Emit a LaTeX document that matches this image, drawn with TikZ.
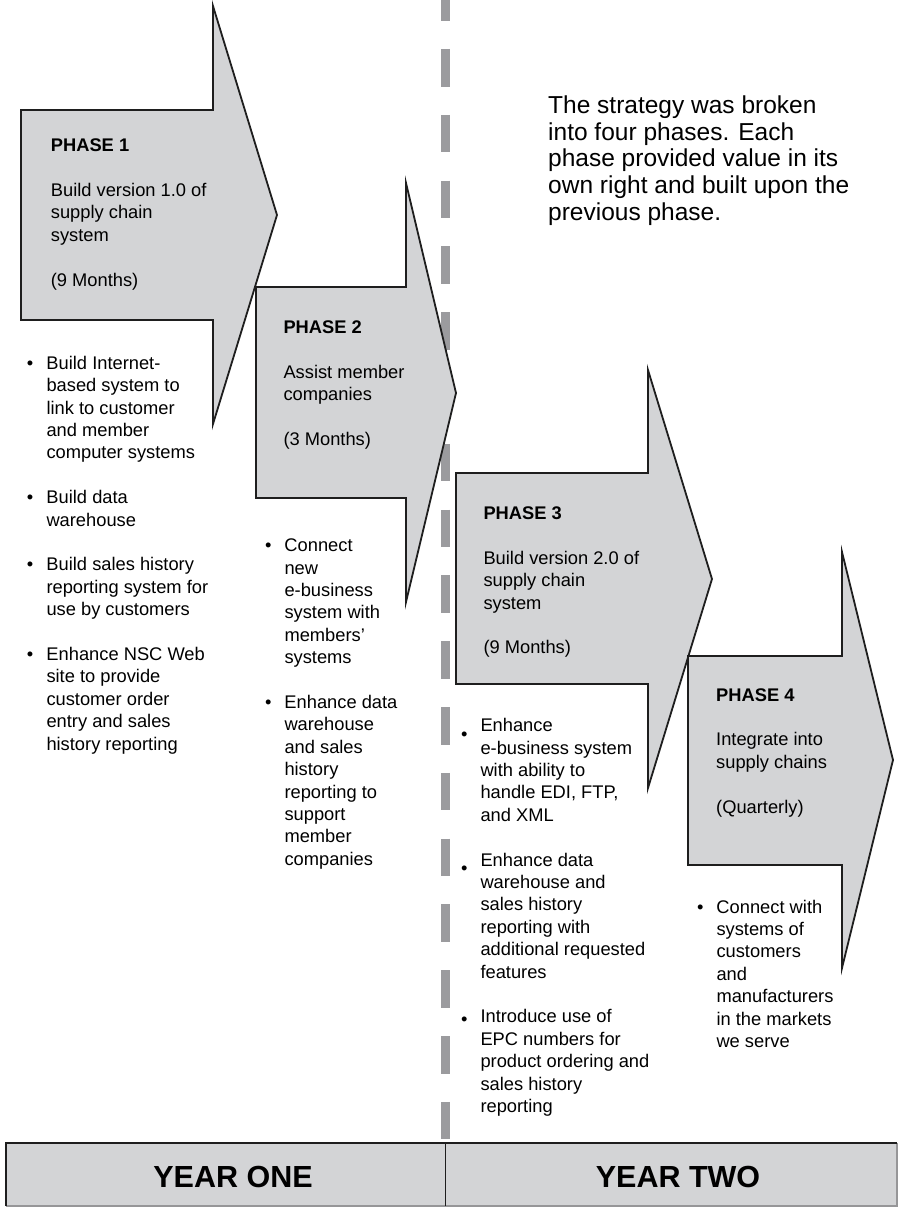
\documentclass[tikz,border=0pt]{standalone}
\usepackage{fontspec}
\setmainfont{Liberation Sans}
\definecolor{arrowfill}{RGB}{211,212,214}
\definecolor{dashgray}{RGB}{155,155,158}
\definecolor{edgecol}{RGB}{30,30,30}
\definecolor{lowedge}{RGB}{150,150,152}
\newcommand{\lowbullet}[1]{\raisebox{#1}[0pt][0pt]{\textbullet}}
\begin{document}
\begin{tikzpicture}[x=1pt,y=-1pt,
  arrowshape/.style={fill=arrowfill, draw=edgecol, line width=1.8pt, line join=miter},
  phasetext/.style={anchor=base west, inner sep=0pt, text=black, font=\fontsize{18.3}{22.4}\selectfont},
  listtext/.style={anchor=base west, inner sep=0pt, text=black, font=\fontsize{18.3}{22.4}\selectfont},
  introtext/.style={anchor=base west, inner sep=0pt, text=black, font=\fontsize{24.5}{26.8}\selectfont},
  yeartext/.style={anchor=base, inner sep=0pt, text=black, font=\fontsize{30.5}{34}\selectfont\bfseries}]
\useasboundingbox (0,0) rectangle (898,1207);

% dashed divider
\draw[dashgray, line width=9pt, dash pattern=on 37.5pt off 28.3pt, dash phase=16.8pt] (445.5,0) -- (445.5,1143);

% arrows
\draw[arrowshape] (21,110) -- (213,110) -- (213,6) -- (277,215) -- (213,424) -- (213,320) -- (21,320) -- cycle;
\draw[arrowshape] (256,287) -- (406,287) -- (406,183) -- (456,393) -- (406,602) -- (406,498) -- (256,498) -- cycle;
\draw[arrowshape] (456,473) -- (648,473) -- (648,370) -- (712,579) -- (648,788) -- (648,684) -- (456,684) -- cycle;
\draw[arrowshape] (688,656) -- (842,656) -- (842,552) -- (893,760) -- (842,968) -- (842,865) -- (688,865) -- cycle;

% phase texts
\node[phasetext] (p1) at (50.7,151.7) {\begin{tabular}[t]{@{}l@{}}\textbf{PHASE 1}\\ \\Build version 1.0 of\\supply chain\\system\\ \\(9 Months)\end{tabular}};
\node[phasetext] (p2) at (283.3,333.5) {\begin{tabular}[t]{@{}l@{}}\textbf{PHASE 2}\\ \\Assist member\\companies\\ \\(3 Months)\end{tabular}};
\node[phasetext] (p3) at (483.3,519.5) {\begin{tabular}[t]{@{}l@{}}\textbf{PHASE 3}\\ \\Build version 2.0 of\\supply chain\\system\\ \\(9 Months)\end{tabular}};
\node[phasetext] (p4) at (716,701) {\begin{tabular}[t]{@{}l@{}}\textbf{PHASE 4}\\ \\Integrate into\\supply chains\\ \\(Quarterly)\end{tabular}};

% bullet lists
\node[listtext] (l1) at (26.8,369.3) {\begin{tabular}[t]{@{}c@{\hspace{13.1pt}}l@{}}
\textbullet & Build Internet-\\
& based system to\\
& link to customer\\
& and member\\
& computer systems\\
& \\
\textbullet & Build data\\
& warehouse\\
& \\
\textbullet & Build sales history\\
& reporting system for\\
& use by customers\\
& \\
\textbullet & Enhance NSC Web\\
& site to provide\\
& customer order\\
& entry and sales\\
& history reporting
\end{tabular}};

\node[listtext] (l2) at (264.8,551.7) {\begin{tabular}[t]{@{}c@{\hspace{13.1pt}}l@{}}
\textbullet & Connect\\
& new\\
& e-business\\
& system with\\
& members’\\
& systems\\
& \\
\textbullet & Enhance data\\
& warehouse\\
& and sales\\
& history\\
& reporting to\\
& support\\
& member\\
& companies
\end{tabular}};

\node[listtext] (l3) at (460.8,731.7) {\begin{tabular}[t]{@{}c@{\hspace{13.1pt}}l@{}}
\lowbullet{-9pt} & Enhance\\
& e-business system\\
& with ability to\\
& handle EDI, FTP,\\
& and XML\\
& \\
\lowbullet{-8pt} & Enhance data\\
& warehouse and\\
& sales history\\
& reporting with\\
& additional requested\\
& features\\
& \\
\lowbullet{-3pt} & Introduce use of\\
& EPC numbers for\\
& product ordering and\\
& sales history\\
& reporting
\end{tabular}};

\node[listtext] (l4) at (696.8,913) {\begin{tabular}[t]{@{}c@{\hspace{13.1pt}}l@{}}
\textbullet & Connect with\\
& systems of\\
& customers\\
& and\\
& manufacturers\\
& in the markets\\
& we serve
\end{tabular}};

% intro text
\node[introtext] (intro) at (548,113.3) {\begin{tabular}[t]{@{}l@{}}The strategy was broken\\into four phases. Each\\phase provided value in its\\own right and built upon the\\previous phase.\end{tabular}};

% year bar
\fill[arrowfill] (6,1143) rectangle (897,1206);
\draw[lowedge, line width=1.2pt] (6,1206) -- (897,1206) -- (897,1143);
\draw[edgecol, line width=2pt] (6,1206) -- (6,1143) -- (897,1143);
\draw[edgecol, line width=1.4pt] (445.5,1143) -- (445.5,1206);
\node[yeartext] (y1) at (233,1187) {YEAR ONE};
\node[yeartext] (y2) at (678,1187) {YEAR TWO};
\end{tikzpicture}
\end{document}
